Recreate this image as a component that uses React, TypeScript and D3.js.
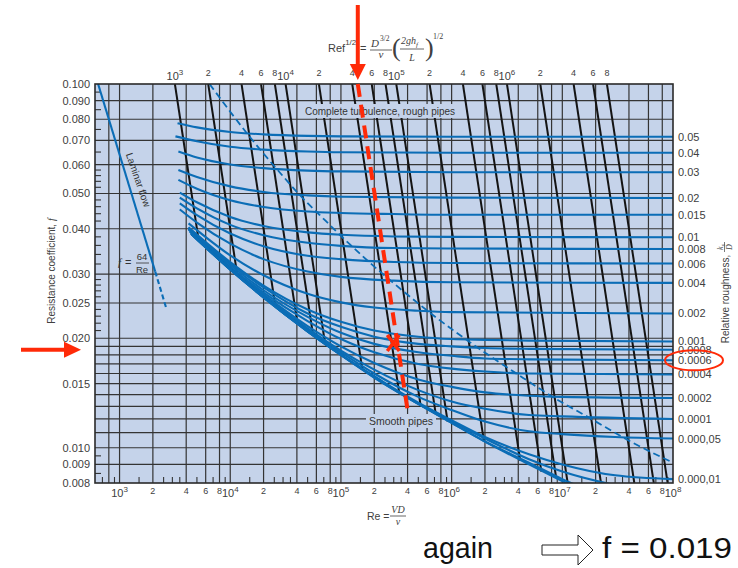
import * as d3 from "d3";

// Moody chart: resistance coefficient f vs Re, one curve per relative roughness.
// Each curve: [Re, f] points.
const rough050 = [[3340, 0.078], [5e3, 0.076], [1e4, 0.0738], [2e4, 0.0727], [5e4, 0.072], [1e5, 0.0718], [1e6, 0.0716], [1e8, 0.0716]];
const rough040 = [[3200, 0.0718], [5e3, 0.0696], [1e4, 0.0672], [2e4, 0.066], [5e4, 0.0652], [1e5, 0.0649], [1e6, 0.0647], [1e8, 0.0647]];
const rough030 = [[3400, 0.0652], [5e3, 0.0628], [1e4, 0.0601], [2e4, 0.0587], [5e4, 0.0578], [1e5, 0.0575], [1e6, 0.0572], [1e8, 0.0572]];
const rough020 = [[3400, 0.058], [5e3, 0.0555], [1e4, 0.0523], [2e4, 0.0505], [5e4, 0.0494], [1e5, 0.049], [1e6, 0.0487], [1e8, 0.0486]];
const rough015 = [[3400, 0.0545], [5e3, 0.0515], [1e4, 0.0479], [2e4, 0.0459], [5e4, 0.0446], [1e5, 0.0442], [3e5, 0.0439], [1e6, 0.0437], [1e8, 0.0437]];
const rough010 = [[3500, 0.0503], [5e3, 0.0473], [1e4, 0.0431], [2e4, 0.0407], [5e4, 0.0391], [1e5, 0.0385], [3e5, 0.0381], [1e6, 0.038], [1e8, 0.0379]];
const rough008 = [[3500, 0.0487], [5e3, 0.0455], [1e4, 0.041], [2e4, 0.0384], [5e4, 0.0366], [1e5, 0.0359], [3e5, 0.0354], [1e6, 0.0353], [1e8, 0.0352]];
const rough006 = [[3500, 0.047], [5e3, 0.0436], [1e4, 0.0388], [2e4, 0.0358], [5e4, 0.0337], [1e5, 0.033], [3e5, 0.0324], [1e6, 0.0322], [1e8, 0.0321]];
const rough004 = [[3500, 0.0452], [5e3, 0.0416], [1e4, 0.0364], [2e4, 0.033], [5e4, 0.0305], [1e5, 0.0295], [3e5, 0.0288], [1e6, 0.0285], [1e8, 0.0284]];
const rough002 = [[4200, 0.0414], [1e4, 0.0338], [2e4, 0.0298], [5e4, 0.0265], [1e5, 0.0251], [2e5, 0.0243], [5e5, 0.0238], [1e6, 0.0236], [1e8, 0.0234]];
const rough001 = [[4200, 0.0404], [1e4, 0.0324], [2e4, 0.0279], [5e4, 0.024], [1e5, 0.0222], [2e5, 0.021], [5e5, 0.0202], [1e6, 0.0199], [2e6, 0.0198], [5e6, 0.0197], [1e8, 0.0196]];
const rough0008 = [[4200, 0.0402], [1e4, 0.0321], [2e4, 0.0276], [5e4, 0.0234], [1e5, 0.0215], [2e5, 0.0202], [5e5, 0.0193], [1e6, 0.019], [2e6, 0.0188], [5e6, 0.0187], [1e8, 0.0186]];
const rough0006 = [[4200, 0.04], [1e4, 0.0318], [2e4, 0.0271], [5e4, 0.0229], [1e5, 0.0207], [2e5, 0.0193], [5e5, 0.0183], [1e6, 0.0179], [2e6, 0.0176], [5e6, 0.0175], [1e8, 0.0174]];
const rough0004 = [[4200, 0.0398], [1e4, 0.0314], [2e4, 0.0267], [5e4, 0.0223], [1e5, 0.0199], [2e5, 0.0183], [5e5, 0.017], [1e6, 0.0165], [2e6, 0.0162], [5e6, 0.016], [1e8, 0.0159]];
const rough0002 = [[4300, 0.0393], [1e4, 0.0312], [2e4, 0.0264], [5e4, 0.0216], [1e5, 0.019], [2e5, 0.0171], [5e5, 0.0154], [1e6, 0.0147], [2e6, 0.0142], [5e6, 0.0139], [1e7, 0.0138], [1e8, 0.0137]];
const rough0001 = [[4400, 0.0389], [1e4, 0.0311], [2e4, 0.0261], [5e4, 0.0213], [1e5, 0.0185], [2e5, 0.0164], [5e5, 0.0144], [1e6, 0.0134], [2e6, 0.0128], [5e6, 0.0123], [1e7, 0.0122], [1e8, 0.012]];
const rough00005 = [[4400, 0.0388], [1e4, 0.031], [2e4, 0.026], [5e4, 0.0211], [1e5, 0.0183], [2e5, 0.016], [5e5, 0.0138], [1e6, 0.0127], [2e6, 0.0118], [5e6, 0.0111], [1e7, 0.0109], [3e7, 0.0107], [1e8, 0.0106]];
const rough00001 = [[4500, 0.0386], [1e4, 0.0309], [2e4, 0.0259], [5e4, 0.0209], [1e5, 0.018], [2e5, 0.0157], [5e5, 0.0133], [1e6, 0.0119], [2e6, 0.0107], [5e6, 0.0096], [1e7, 0.009], [3e7, 0.0084], [1e8, 0.0082]];
const rough000005 = [[4500, 0.0386], [1e4, 0.0309], [2e4, 0.0259], [5e4, 0.0209], [1e5, 0.018], [2e5, 0.0157], [5e5, 0.0132], [1e6, 0.0118], [2e6, 0.0106], [5e6, 0.0093], [1e7, 0.0086], [3e7, 0.0079], [1e8, 0.0075]];
const rough000001 = [[4500, 0.0386], [1e4, 0.0309], [2e4, 0.0259], [5e4, 0.0209], [1e5, 0.018], [2e5, 0.0156], [5e5, 0.0132], [1e6, 0.0117], [2e6, 0.0104], [5e6, 0.0091], [1e7, 0.0082], [2e7, 0.0075]];
const smoothPipe = [[4500, 0.0386], [1e4, 0.0309], [2e4, 0.0259], [5e4, 0.0209], [1e5, 0.018], [2e5, 0.0156], [5e5, 0.0132], [1e6, 0.0117], [2e6, 0.0104], [5e6, 0.009], [1e7, 0.0081], [2e7, 0.0073]];

const roughCurves = [rough050, rough040, rough030, rough020, rough015, rough010, rough008, rough006, rough004,
  rough002, rough001, rough0008, rough0006, rough0004, rough0002, rough0001, rough00005, rough00001,
  rough000005, rough000001, smoothPipe];
const roughLabels = ["0.05", "0.04", "0.03", "0.02", "0.015", "0.01", "0.008", "0.006", "0.004", "0.002",
  "0.001", "0.0008", "0.0006", "0.0004", "0.0002", "0.0001", "0.000,05", "0.000,01"];

// laminar flow f = 64/Re, solid then dashed part
const laminarSolid = [[640, 0.1], [2100, 0.0305]];
const laminarDashed = [[2100, 0.0305], [2630, 0.0243]];

// dashed boundary of complete turbulence
const turbBoundary = [[6500, 0.1], [1.5e4, 0.0716], [1.97e4, 0.0647], [2.79e4, 0.0572], [4.5e4, 0.0486], [6.4e4, 0.0437],
  [1.03e5, 0.0379], [1.86e5, 0.0321], [2.97e5, 0.0284], [6.5e5, 0.0234], [1.43e6, 0.0196], [3.97e6, 0.0159],
  [8.5e6, 0.0137], [1.83e7, 0.012], [3.9e7, 0.0105], [1e8, 0.0091]];

// Re f^1/2 lines (top axis) and the f where each one stops
const refValues = [1e3, 2e3, 4e3, 6e3, 8e3, 1e4, 2e4, 4e4, 6e4, 8e4, 1e5, 2e5, 4e5, 6e5, 8e5, 1e6, 2e6, 4e6, 6e6, 8e6];
const refEnds = [0.037, 0.0297, 0.0244, 0.0219, 0.0204, 0.0193, 0.0164, 0.0142, 0.013, 0.0123, 0.0118, 0.0104,
  0.0092, 0.0086, 0.0083, 0.008, 0.008, 0.008, 0.008, 0.008];

// axes
const fTicks = [0.1, 0.09, 0.08, 0.07, 0.06, 0.05, 0.04, 0.03, 0.025, 0.02, 0.015, 0.01, 0.009, 0.008];
const fTickLabels = ["0.100", "0.090", "0.080", "0.070", "0.060", "0.050", "0.040", "0.030", "0.025", "0.020", "0.015", "0.010", "0.009", "0.008"];
const fGrid = [0.09, 0.08, 0.07, 0.06, 0.05, 0.04, 0.03, 0.025, 0.02, 0.019, 0.018, 0.017, 0.016, 0.015, 0.014, 0.013, 0.012, 0.011, 0.01, 0.009];
const fMinor = [0.095, 0.085, 0.075, 0.065, 0.058, 0.056, 0.054, 0.052, 0.048, 0.046, 0.044, 0.042, 0.038, 0.036, 0.034, 0.032,
  0.029, 0.028, 0.027, 0.026, 0.024, 0.023, 0.022, 0.021, 0.0095, 0.0085];
const decades = [1e3, 1e4, 1e5, 1e6, 1e7];
const gridMult = [1, 2, 4, 6, 8];
const minorMult = [1.5, 2.5, 3, 3.5, 5, 7, 9];

// red annotations
const redLine = [[1.42e5, 0.1], [4.0e5, 0.0127]];
const redCross = [2.97e5, 0.0194];
const arrowF = 0.0186;
const circledF = 0.0174;

const PLOT = "#c5d3ea";
const BLUE = "#0b6db6";
const GRID = "#343434";
const TXT = "#404040";
const RED = "#ff2a08";
const SERIF = "'Liberation Serif', 'DejaVu Serif', serif";

const exp = (v: number) => Math.round(Math.log10(v));
const isPow10 = (v: number) => Math.abs(Math.log10(v) - exp(v)) < 1e-9;

export default function App() {
  const x = d3.scaleLog().domain([600, 1e8]).range([95, 673]);
  const y = d3.scaleLog().domain([0.008, 0.1]).range([483, 84]);
  const [x0, x1] = x.range();
  const [y1, y0] = y.range();

  const curve = d3.line<number[]>().x(d => x(d[0])).y(d => y(d[1])).curve(d3.curveMonotoneX);
  const straight = d3.line<number[]>().x(d => x(d[0])).y(d => y(d[1]));

  const reGrid = [800, ...decades.flatMap(d => gridMult.map(m => m * d))];
  const reMinor = [700, 900, ...decades.flatMap(d => minorMult.map(m => m * d))];
  const reLabels = [...decades.flatMap(d => gridMult.map(m => m * d)), 1e8];
  const topF = 0.1;

  const rx = x(redCross[0]);
  const ry = y(redCross[1]);
  const arrowX = x(redLine[0][0]);
  const arrowY = y(arrowF);

  return (
    <svg width={738} height={568} style={{ position: "absolute", left: 0, top: 0, background: "#fff" }}
      fontFamily="'Liberation Sans', Arial, sans-serif">
      <defs>
        <clipPath id="plotClip">
          <rect x={x0} y={y0} width={x1 - x0} height={y1 - y0} />
        </clipPath>
      </defs>

      <rect x={x0} y={y0} width={x1 - x0} height={y1 - y0} fill={PLOT} />

      {/* grid */}
      {fGrid.map(f => (
        <line key={"hg" + f} x1={x0} x2={x1} y1={y(f)} y2={y(f)} stroke={GRID} strokeWidth={1.2} />
      ))}
      {reGrid.map(r => (
        <line key={"vg" + r} x1={x(r)} x2={x(r)} y1={y0} y2={y1} stroke={GRID} strokeWidth={1.2} />
      ))}
      {fMinor.map(f => (
        <line key={"fm" + f} x1={x0} x2={x0 + 6} y1={y(f)} y2={y(f)} stroke={GRID} strokeWidth={1.1} />
      ))}
      {reMinor.map(r => (
        <line key={"rm" + r} x1={x(r)} x2={x(r)} y1={y1} y2={y1 - 6} stroke={GRID} strokeWidth={1.1} />
      ))}

      <g clipPath="url(#plotClip)">
        {/* Re f^1/2 lines */}
        {refValues.map((c, i) => (
          <path key={"ref" + c}
            d={straight([[c / Math.sqrt(topF), topF], [c / Math.sqrt(refEnds[i]), refEnds[i]]]) || ""}
            stroke="#141414" strokeWidth={2} fill="none" />
        ))}
      </g>

      {/* labels with plot-coloured backing */}
      <rect x={301} y={104} width={159} height={14} fill={PLOT} />
      <text x={380} y={115} textAnchor="middle" fontSize={10} fill="#333">Complete turbulence, rough pipes</text>
      <rect x={366} y={414} width={70} height={14} fill={PLOT} />
      <text x={401} y={425} textAnchor="middle" fontSize={10.5} fill="#333">Smooth pipes</text>

      <g clipPath="url(#plotClip)">
        <path d={curve(turbBoundary) || ""} stroke={BLUE} strokeWidth={1.8} fill="none" strokeDasharray="7,4" />
        {roughCurves.map((c, i) => (
          <path key={"rc" + i} d={curve(c) || ""} stroke={BLUE} strokeWidth={2.1} fill="none" />
        ))}
        <path d={straight(laminarSolid) || ""} stroke={BLUE} strokeWidth={2.1} fill="none" />
        <path d={straight(laminarDashed) || ""} stroke={BLUE} strokeWidth={2.1} fill="none" strokeDasharray="5,3" />
      </g>

      <rect x={x0} y={y0} width={x1 - x0} height={y1 - y0} fill="none" stroke="#2a2a2a" strokeWidth={1.6} />

      {/* laminar annotations */}
      <text transform="translate(135,181) rotate(71)" textAnchor="middle" fontSize={10} fill="#333">Laminar flow</text>
      <text x={118} y={266} fontSize={11} fontStyle="italic" fontFamily={SERIF} fill="#333">f</text>
      <text x={125} y={266} fontSize={11} fill="#333">=</text>
      <text x={142} y={260} textAnchor="middle" fontSize={9.5} fill="#333">64</text>
      <line x1={136} x2={149} y1={263} y2={263} stroke="#333" strokeWidth={0.8} />
      <text x={142} y={273} textAnchor="middle" fontSize={9.5} fill="#333">Re</text>

      {/* left axis */}
      {fTicks.map((f, i) => (
        <text key={"fl" + f} x={90} y={y(f) + 4} textAnchor="end" fontSize={11} fill={TXT}>{fTickLabels[i]}</text>
      ))}
      <text transform="translate(55,271) rotate(-90)" textAnchor="middle" fontSize={10} fill={TXT}>
        Resistance coefficient, <tspan fontStyle="italic" fontFamily={SERIF}>f</tspan>
      </text>

      {/* bottom axis */}
      {reLabels.map(r => isPow10(r) ? (
        <text key={"bl" + r} x={x(r)} y={497} textAnchor="middle" fill={TXT}>
          <tspan fontSize={11}>10</tspan><tspan fontSize={8} dy={-5}>{exp(r)}</tspan>
        </text>
      ) : (
        <text key={"bl" + r} x={x(r)} y={494} textAnchor="middle" fontSize={9} fill={TXT}>{String(r).charAt(0)}</text>
      ))}
      <text x={367} y={520} fontSize={10.5} fill={TXT}>Re =</text>
      <text x={398} y={513} textAnchor="middle" fontSize={10} fontStyle="italic" fontFamily={SERIF} fill={TXT}>VD</text>
      <line x1={390} x2={406} y1={516} y2={516} stroke={TXT} strokeWidth={0.8} />
      <text x={398} y={525} textAnchor="middle" fontSize={10} fontStyle="italic" fontFamily={SERIF} fill={TXT}>ν</text>

      {/* top axis: Re f^1/2 */}
      {refValues.map(c => {
        const cx = x(c / Math.sqrt(topF));
        return isPow10(c) ? (
          <text key={"tl" + c} x={cx} y={80} textAnchor="middle" fill={TXT}>
            <tspan fontSize={11}>10</tspan><tspan fontSize={8} dy={-5}>{exp(c)}</tspan>
          </text>
        ) : (
          <text key={"tl" + c} x={cx} y={76} textAnchor="middle" fontSize={9} fill={TXT}>{String(c).charAt(0)}</text>
        );
      })}
      <text x={328} y={52} fontSize={11} fill={TXT}>Ref<tspan fontSize={8} dy={-7}>1/2</tspan></text>
      <text x={360} y={52} fontSize={11} fill={TXT}>=</text>
      <text x={371} y={47} fontSize={11} fontStyle="italic" fontFamily={SERIF} fill={TXT}>D</text>
      <text x={380} y={41} fontSize={7.5} fontFamily={SERIF} fill={TXT}>3/2</text>
      <line x1={370} x2={392} y1={50} y2={50} stroke={TXT} strokeWidth={0.8} />
      <text x={381} y={58} textAnchor="middle" fontSize={11} fontStyle="italic" fontFamily={SERIF} fill={TXT}>ν</text>
      <text x={392} y={56} fontSize={26} fontFamily={SERIF} fill={TXT}>(</text>
      <text x={401} y={44} fontSize={10} fontStyle="italic" fontFamily={SERIF} fill={TXT}>2gh<tspan fontSize={7} dy={3}>f</tspan></text>
      <line x1={400} x2={424} y1={49} y2={49} stroke={TXT} strokeWidth={0.8} />
      <text x={412} y={61} textAnchor="middle" fontSize={10} fontStyle="italic" fontFamily={SERIF} fill={TXT}>L</text>
      <text x={425} y={56} fontSize={26} fontFamily={SERIF} fill={TXT}>)</text>
      <text x={433} y={39} fontSize={8} fontFamily={SERIF} fill={TXT}>1/2</text>

      {/* right axis: relative roughness */}
      {roughLabels.map((lab, i) => {
        const c = roughCurves[i];
        const ly = y(c[c.length - 1][1]);
        return (
          <g key={"rl" + lab}>
            {lab === "0.001" && <rect x={676} y={ly - 6} width={34} height={11} fill="#fff" />}
            <text x={678} y={ly + 4} fontSize={11} fill={TXT}>{lab}</text>
          </g>
        );
      })}
      <g transform="translate(729,299) rotate(-90)" fill={TXT}>
        <text x={0} y={0} textAnchor="middle" fontSize={10}>Relative roughness,</text>
        <text x={52} y={-6} textAnchor="middle" fontSize={8} fontStyle="italic" fontFamily={SERIF}>k<tspan fontSize={6} dy={2}>s</tspan></text>
        <line x1={47} x2={57} y1={-4.5} y2={-4.5} stroke={TXT} strokeWidth={0.7} />
        <text x={52} y={3} textAnchor="middle" fontSize={8} fontStyle="italic" fontFamily={SERIF}>D</text>
      </g>

      {/* red annotations */}
      <path d={straight(redLine) || ""} stroke={RED} strokeWidth={4} fill="none" strokeDasharray="13,8" />
      <line x1={rx - 6} x2={rx + 6} y1={ry - 8} y2={ry + 8} stroke={RED} strokeWidth={3.5} />
      <line x1={rx + 6} x2={rx - 6} y1={ry - 8} y2={ry + 8} stroke={RED} strokeWidth={3.5} />
      <line x1={arrowX} x2={arrowX} y1={5} y2={y0 - 18} stroke={RED} strokeWidth={4} />
      <path d={`M${arrowX - 8},${y0 - 20}L${arrowX + 8},${y0 - 20}L${arrowX},${y0 - 4}Z`} fill={RED} />
      <line x1={21} x2={66} y1={arrowY} y2={arrowY} stroke={RED} strokeWidth={4} />
      <path d={`M64,${arrowY - 8}L64,${arrowY + 8}L81,${arrowY}Z`} fill={RED} />
      <ellipse cx={694} cy={y(circledF)} rx={29} ry={10} fill="none" stroke={RED} strokeWidth={2} />

      {/* footer */}
      <text x={423} y={558} fontSize={29} fill="#111" textLength={70} lengthAdjust="spacingAndGlyphs">again</text>
      <path d="M542,545L578,545L578,535L593,550L578,565L578,555L542,555Z" fill="#fff" stroke="#222" strokeWidth={1} />
      <text x={602} y={558} fontSize={29} fill="#111" textLength={130} lengthAdjust="spacingAndGlyphs">f = 0.019</text>
    </svg>
  );
}
